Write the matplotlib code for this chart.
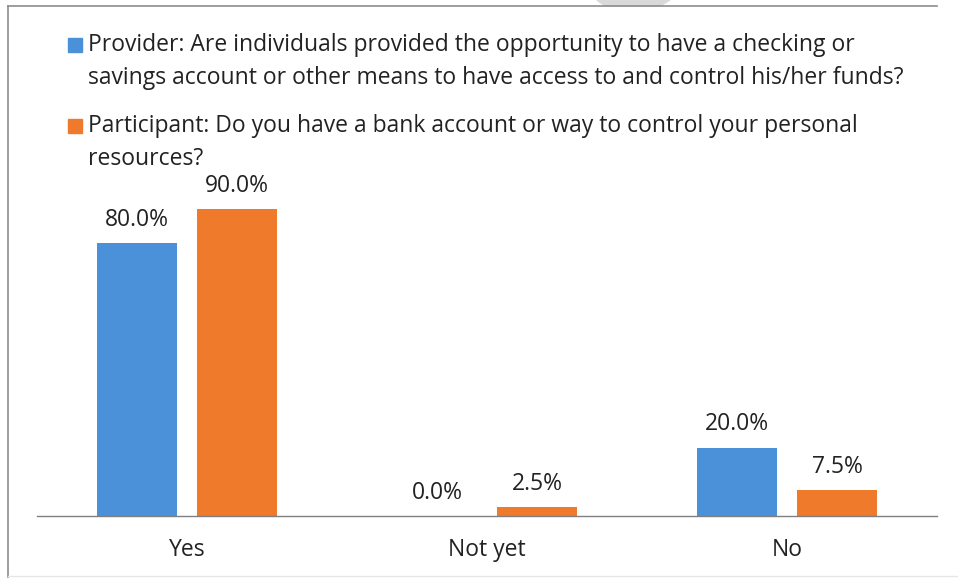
import matplotlib
matplotlib.use("Agg")
import matplotlib.pyplot as plt
from matplotlib.patches import Rectangle, Polygon
from matplotlib.lines import Line2D
import numpy as np

plt.rcParams['font.family'] = ['Open Sans', 'DejaVu Sans']

categories = ["Yes", "Not yet", "No"]
provider = [80.0, 0.0, 20.0]
participant = [90.0, 2.5, 7.5]
series_names = [
    "Provider: Are individuals provided the opportunity to have a checking or\n"
    "savings account or other means to have access to and control his/her funds?",
    "Participant: Do you have a bank account or way to control your personal\n"
    "resources?",
]
colors = ["#4A91DA", "#EF7A2C"]
txt = "#222222"
fs = 16.5

W, H = 958, 579
fig = plt.figure(figsize=[W / 100, H / 100], dpi=100)

# plot area in pixel terms: x 37..937, baseline at y=516
left, right, base, top = 37, 937, 516, 20
ax = fig.add_axes([left / W, 1 - base / H, (right - left) / W, (base - top) / H])
ymax = (base - top) / 3.41
ax.set_xlim(-0.5, 2.5)
ax.set_ylim(0, ymax)

x = np.arange(len(categories))
bw = 0.267
off = 0.167
for vals, dx, c in [(provider, -off, colors[0]), (participant, off, colors[1])]:
    bars = ax.bar(x + dx, vals, width=bw, color=c)
    for b, v in zip(bars, vals):
        ax.annotate(f"{v:.1f}%", (b.get_x() + b.get_width() / 2, v),
                    xytext=(0, 12.5), textcoords="offset points",
                    ha="center", va="baseline", fontsize=fs, color=txt)

for s in ["top", "right", "left"]:
    ax.spines[s].set_visible(False)
ax.spines["bottom"].set_color("#7f7f7f")
ax.spines["bottom"].set_linewidth(1.0)
ax.set_yticks([])
ax.set_xticks(x)
ax.set_xticklabels(categories, fontsize=fs, color=txt)
ax.tick_params(axis="x", length=0, pad=16)
ax.patch.set_alpha(0)

# legend drawn by hand: square marker followed by wrapped text
leg_y = [38, 119]
for name, c, y in zip(series_names, colors, leg_y):
    fig.add_artist(Rectangle((68 / W, 1 - (y + 14) / H), 14 / W, 14 / H,
                             transform=fig.transFigure, color=c))
    fig.text(88 / W, 1 - (y - 5) / H, name, ha="left", va="top",
             fontsize=fs, color=txt, linespacing=1.48)

# outer frame: top and left edges, faint bottom
fig.add_artist(Line2D([8 / W, 937 / W], [1 - 6 / H, 1 - 6 / H], transform=fig.transFigure,
                      color="#8c8c8c", linewidth=1.2))
fig.add_artist(Line2D([8 / W, 8 / W], [1 - 6 / H, 1 - 577 / H], transform=fig.transFigure,
                      color="#8c8c8c", linewidth=1.2))
fig.add_artist(Line2D([8 / W, 958 / W], [1 - 576 / H, 1 - 576 / H], transform=fig.transFigure,
                      color="#e6e6e6", linewidth=1.0))
fig.add_artist(Polygon([(597 / W, 1), (670 / W, 1), (660 / W, 1 - 6 / H), (605 / W, 1 - 6 / H)],
                       closed=True, transform=fig.transFigure, color="#d9d9d9"))

fig.savefig("out.png", dpi=100)
